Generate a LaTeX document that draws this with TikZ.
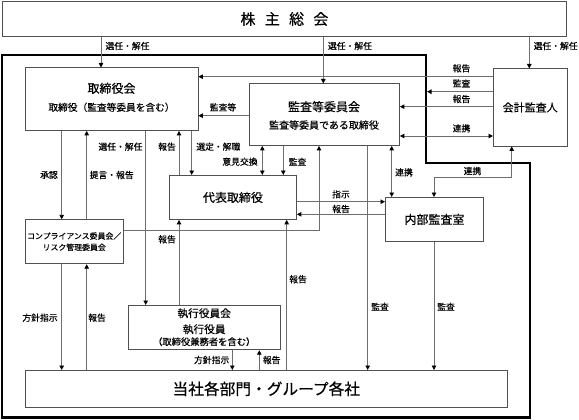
\documentclass[tikz,border=0pt]{standalone}
\usepackage{fontspec}
\setmainfont{Noto Sans CJK JP}[FakeBold=0.35]
\usetikzlibrary{arrows.meta}
\definecolor{boxgray}{HTML}{505050}
\definecolor{linegray}{HTML}{6E6E6E}
\newcommand{\fsz}[1]{\fontsize{#1}{#1}\selectfont}
\begin{document}
\begin{tikzpicture}[x=1pt,y=-1pt,
  box/.style={draw=boxgray, line width=0.9pt, inner sep=0pt, anchor=north west},
  conn/.style={draw=linegray, line width=0.9pt},
  tip/.style={-{Triangle[length=4.5pt,width=4.5pt,color=black]}},
  tips/.style={{Triangle[length=4.5pt,width=4.5pt,color=black]}-{Triangle[length=4.5pt,width=4.5pt,color=black]}},
  lbl/.style={font=\fsz{8.8}, inner sep=0pt},
  txt/.style={inner sep=0pt},
  ]
\fill[white] (0,0) rectangle (579,420);
\useasboundingbox (0,0) rectangle (579,420);

% thick border
\draw[black, line width=2.4pt] (2,55) -- (425.7,55) -- (425.7,163) -- (530,163) -- (530,417.5) -- (2,417.5) -- cycle;
\coordinate (bord) at (427,91.7);

% boxes
\node[box, minimum width=564pt, minimum height=35pt] (kabu) at (2,1) {};
\node[txt, font=\fsz{15}] (kabut) at (kabu.center) {株\hspace{9.3pt}主\hspace{9.3pt}総\hspace{9.3pt}会};
\node[box, minimum width=172.5pt, minimum height=62.5pt] (tori) at (25,67.5) {};
\node[txt, font=\fsz{12}] (tori1) at (111.5,88.3) {取締役会};
\node[txt, font=\fsz{9.7}] (tori2) at (111.5,107.3) {取締役（監査等委員を含む）};
\node[box, minimum width=150pt, minimum height=61.5pt] (kansa) at (249,83.5) {};
\node[txt, font=\fsz{12}] (kansa1) at (324,106.7) {監査等委員会};
\node[txt, font=\fsz{10}] (kansa2) at (324,125) {監査等委員である取締役};
\node[box, minimum width=73.5pt, minimum height=77pt, font=\fsz{11}] (kaikei) at (493,68.5) {会計監査人};
\node[box, minimum width=127pt, minimum height=44pt, font=\fsz{12}] (daihyo) at (169,175) {代表取締役};
\node[box, minimum width=98pt, minimum height=44pt, font=\fsz{12}] (naibu) at (385,197) {内部監査室};
\node[box, minimum width=98.3pt, minimum height=44pt] (comp) at (25,219.3) {};
\node[txt, font=\fsz{7.9}] (comp1) at (74.2,236) {コンプライアンス委員会／};
\node[txt, font=\fsz{7.9}] (comp2) at (74.2,247.3) {リスク管理委員会};
\node[box, minimum width=151.7pt, minimum height=44.3pt] (shikko) at (128.3,305) {};
\node[txt, font=\fsz{10.7}] (shikko1) at (204.2,313.3) {執行役員会};
\node[txt, font=\fsz{10.7}] (shikko2) at (204.2,329.3) {執行役員};
\node[txt, font=\fsz{9.3}] (shikko3) at (204.2,341.7) {（取締役兼務者を含む）};
\node[box, minimum width=481.7pt, minimum height=36.7pt, font=\fsz{15.7}] (tosha) at (25,370) {当社各部門・グループ各社};

% from 株主総会
\draw[conn,tip] (101,0 |- kabu.south) -- (101,0 |- tori.north);
\draw[conn,tip] (323.3,0 |- kabu.south) -- (323.3,0 |- kansa.north);
\draw[conn,tip] (529.3,0 |- kabu.south) -- (529.3,0 |- kaikei.north);

% from 会計監査人
\draw[conn,tip] (kaikei.west |- 0,76.7) -- (tori.east |- 0,76.7);
\draw[conn,tip] (kaikei.west |- 0,91.7) -- (bord);
\draw[conn,tip] (kaikei.west |- 0,106.7) -- (kansa.east |- 0,106.7);
\draw[conn,tips] (kansa.east |- 0,136) -- (kaikei.west |- 0,136);
\draw[conn,tip] (kansa.west |- 0,115.7) -- (tori.east |- 0,115.7);

% 取締役会 bottom
\draw[conn,tip] (61.7,0 |- tori.south) -- (61.7,0 |- comp.north);
\draw[conn,tip] (86.7,0 |- comp.north) -- (86.7,0 |- tori.south);
\draw[conn,tip] (145.7,0 |- tori.south) -- (145.7,0 |- shikko.north);
\draw[conn,tip] (179,0 |- daihyo.north) -- (179,0 |- tori.south);
\draw[conn,tip] (191.7,0 |- tori.south) -- (191.7,0 |- daihyo.north);
\draw[conn,tips] (262.3,0 |- kansa.south) -- (262.3,0 |- daihyo.north);
\draw[conn,tip] (283.3,0 |- kansa.south) -- (283.3,0 |- daihyo.north);
\draw[conn,tip] (comp.east |- 0,230) -| (319,0 |- kansa.south);

% 代表取締役
\draw[conn,tip] (179,0 |- shikko.north) -- (179,0 |- daihyo.south);
\draw[conn,tip] (286.7,0 |- tosha.north) -- (286.7,0 |- daihyo.south);
\draw[conn,tip] (daihyo.east |- 0,201.7) -- (naibu.west |- 0,201.7);
\draw[conn,tip] (naibu.west |- 0,214.3) -- (daihyo.east |- 0,214.3);

% 内部監査室
\draw[conn,tips] (391.7,0 |- kansa.south) -- (391.7,0 |- naibu.north);
\draw[conn,tips] (511.7,0 |- kaikei.south) -- (511.7,177.7) -- (434,177.7) -- (434,0 |- naibu.north);
\draw[conn,tip] (367.7,0 |- kansa.south) -- (367.7,0 |- tosha.north);
\draw[conn,tip] (434,0 |- naibu.south) -- (434,0 |- tosha.north);

% lower
\draw[conn,tip] (61.7,0 |- comp.south) -- (61.7,0 |- tosha.north);
\draw[conn,tip] (86.7,0 |- tosha.north) -- (86.7,0 |- comp.south);
\draw[conn,tip] (232.3,0 |- shikko.south) -- (232.3,0 |- tosha.north);
\draw[conn,tip] (259.3,0 |- tosha.north) -- (259.3,0 |- shikko.south);

% labels
\node[lbl] (L1) at (127.5,46) {選任・解任};
\node[lbl] (L2) at (350,46) {選任・解任};
\node[lbl] (L3) at (555.7,46) {選任・解任};
\node[lbl] (L4) at (461.5,68.3) {報告};
\node[lbl] (L5) at (461.5,83.3) {監査};
\node[lbl] (L6) at (461.5,99) {報告};
\node[lbl] (L7) at (461.5,128.3) {連携};
\node[lbl] (L8) at (223,107.3) {監査等};
\node[lbl] (L9) at (49,175) {承認};
\node[lbl] (L10) at (111.7,175) {提言・報告};
\node[lbl] (L11) at (120.5,146.7) {選任・解任};
\node[lbl] (L12) at (167,146.7) {報告};
\node[lbl] (L13) at (218.3,146.7) {選定・解職};
\node[lbl] (L14) at (240,161.7) {意見交換};
\node[lbl] (L15) at (297.5,161.7) {監査};
\node[lbl] (L16) at (167,239.3) {報告};
\node[lbl] (L17) at (341,194.3) {指示};
\node[lbl] (L18) at (341,209) {報告};
\node[lbl] (L19) at (404,172.3) {連携};
\node[lbl] (L20) at (472.5,171) {連携};
\node[lbl] (L21) at (298,279.3) {報告};
\node[lbl] (L22) at (380,306.7) {監査};
\node[lbl] (L23) at (446,306.7) {監査};
\node[lbl] (L24) at (40,317.7) {方針指示};
\node[lbl] (L25) at (97,317.7) {報告};
\node[lbl] (L26) at (211.7,360) {方針指示};
\node[lbl] (L27) at (271.7,360) {報告};
\end{tikzpicture}
\end{document}
